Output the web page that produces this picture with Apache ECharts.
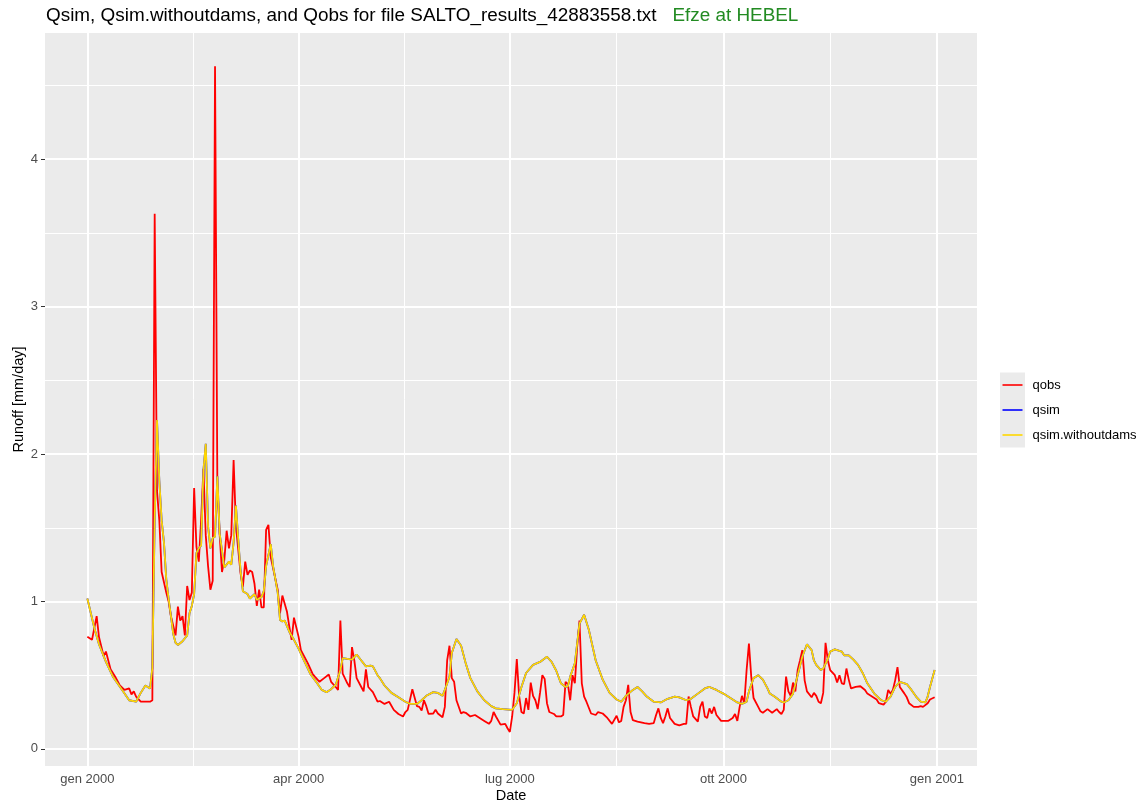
<!DOCTYPE html>
<html>
<head>
<meta charset="utf-8">
<title>Qsim, Qsim.withoutdams, and Qobs - SALTO_results_42883558</title>
<script src="https://cdn.jsdelivr.net/npm/echarts@6/dist/echarts.min.js"></script>
<style>
  html, body { margin: 0; padding: 0; background: #fff; }
  #chart { width: 1141px; height: 801px; }
</style>
</head>
<body>
<div id="chart"></div>
<script>
  // [day of year 2000 (0 = 1 gen), runoff mm/day]
  const qobs = [
    [0,0.76],[2,0.74],[4,0.90],[5,0.76],[7,0.63],[8,0.66],[10,0.54],[12,0.49],[14,0.43],[16,0.40],
    [18,0.41],[19,0.37],[20,0.39],[21,0.355],[23,0.32],[27,0.32],[28,0.33],[29,3.63],[30,1.75],[31,1.55],
    [32,1.20],[34,1.06],[35,1.00],[36,0.90],[38,0.77],[39,0.965],[40,0.87],[41,0.90],[42,0.77],[43,1.105],
    [44,1.01],[45,1.06],[46,1.77],[47,1.37],[48,1.27],[49,1.55],[50,1.90],[51,1.45],[52,1.24],[53,1.08],
    [54,1.14],[55,4.63],[56,1.80],[57,1.45],[58,1.20],[59,1.28],[60,1.48],[61,1.36],[62,1.45],[63,1.96],
    [64,1.51],[66,1.19],[67,1.10],[68,1.27],[69,1.18],[70,1.21],[71,1.20],[72,1.12],[73,0.97],[74,1.08],
    [75,0.96],[76,0.96],[77,1.485],[78,1.52],[79,1.30],[82,1.08],[83,0.92],[84,1.04],[86,0.93],[87,0.83],
    [88,0.74],[89,0.89],[91,0.76],[92,0.67],[95,0.58],[97,0.51],[98,0.49],[100,0.455],[102,0.48],[104,0.505],
    [105,0.455],[107,0.42],[108,0.40],[109,0.87],[110,0.51],[112,0.445],[113,0.42],[114,0.69],[115,0.60],[116,0.48],
    [118,0.42],[119,0.39],[120,0.54],[121,0.42],[123,0.385],[125,0.32],[126,0.325],[128,0.305],[130,0.32],[132,0.265],
    [134,0.237],[136,0.22],[137,0.25],[138,0.265],[140,0.405],[142,0.29],[143,0.285],[144,0.26],[145,0.33],[146,0.29],
    [147,0.237],[149,0.24],[150,0.265],[151,0.24],[153,0.215],[154,0.285],[155,0.60],[156,0.70],[157,0.48],[158,0.455],
    [159,0.33],[161,0.24],[162,0.25],[163,0.245],[165,0.22],[167,0.23],[169,0.21],[171,0.19],[173,0.17],[174,0.19],
    [175,0.25],[176,0.22],[178,0.165],[180,0.17],[181,0.14],[182,0.115],[183,0.22],[184,0.38],[185,0.61],[186,0.36],
    [187,0.25],[188,0.24],[189,0.345],[190,0.265],[191,0.45],[192,0.36],[193,0.33],[194,0.27],[195,0.38],[196,0.50],
    [197,0.475],[198,0.31],[199,0.25],[201,0.237],[202,0.22],[204,0.22],[205,0.23],[206,0.455],[207,0.44],[208,0.33],
    [209,0.50],[210,0.445],[211,0.69],[212,0.87],[213,0.445],[214,0.355],[215,0.32],[217,0.24],[219,0.23],[220,0.25],
    [222,0.24],[224,0.21],[226,0.17],[228,0.225],[229,0.18],[230,0.19],[231,0.285],[232,0.33],[233,0.435],[234,0.25],
    [235,0.195],[237,0.185],[240,0.175],[242,0.17],[244,0.175],[245,0.23],[246,0.275],[247,0.21],[248,0.175],[249,0.22],
    [250,0.275],[251,0.21],[253,0.17],[255,0.16],[257,0.17],[258,0.17],[259,0.355],[260,0.285],[261,0.22],[263,0.185],
    [264,0.285],[265,0.32],[266,0.22],[267,0.21],[268,0.275],[269,0.24],[270,0.285],[271,0.23],[273,0.19],[276,0.19],
    [278,0.21],[279,0.237],[280,0.19],[281,0.285],[282,0.36],[283,0.31],[284,0.535],[285,0.715],[286,0.49],[287,0.345],
    [289,0.285],[290,0.255],[291,0.245],[293,0.27],[295,0.245],[297,0.27],[298,0.25],[299,0.237],[300,0.265],[301,0.49],
    [302,0.39],[303,0.36],[304,0.45],[305,0.39],[306,0.535],[307,0.60],[308,0.67],[309,0.465],[310,0.39],[312,0.35],
    [313,0.38],[314,0.36],[315,0.32],[316,0.31],[317,0.38],[318,0.72],[319,0.60],[320,0.535],[322,0.50],[323,0.45],
    [324,0.50],[325,0.445],[326,0.44],[327,0.545],[328,0.47],[329,0.41],[331,0.42],[333,0.425],[335,0.40],[336,0.375],
    [338,0.355],[340,0.335],[341,0.31],[342,0.305],[343,0.30],[344,0.32],[345,0.40],[346,0.375],[347,0.40],[348,0.465],
    [349,0.555],[350,0.42],[352,0.375],[353,0.35],[354,0.31],[356,0.285],[358,0.285],[359,0.29],[360,0.285],[362,0.31],
    [363,0.335],[365,0.35]
  ]
  const qsimWithoutDams = [
    [0,1.02],[3,0.82],[5,0.71],[8,0.59],[11,0.49],[15,0.40],[18,0.33],[21,0.32],[23,0.38],[25,0.43],
    [27,0.41],[28,0.55],[29,1.55],[30,2.23],[31,1.82],[32,1.55],[33,1.40],[34,1.15],[35,1.02],[36,0.90],
    [37,0.78],[38,0.72],[39,0.705],[41,0.73],[43,0.77],[44,0.92],[45,0.97],[46,1.05],[47,1.33],[48,1.36],
    [49,1.38],[50,1.89],[51,2.07],[52,1.51],[53,1.36],[54,1.43],[55,1.44],[56,1.85],[57,1.46],[59,1.23],
    [61,1.27],[62,1.25],[63,1.40],[64,1.65],[65,1.42],[66,1.21],[67,1.07],[69,1.05],[70,1.02],[72,1.05],
    [73,1.01],[75,1.03],[76,1.07],[77,1.24],[79,1.39],[80,1.24],[82,1.06],[83,0.875],[84,0.865],[85,0.87],
    [87,0.795],[89,0.74],[91,0.68],[93,0.61],[96,0.51],[99,0.445],[101,0.40],[103,0.385],[105,0.405],[107,0.435],
    [109,0.535],[110,0.615],[112,0.61],[114,0.605],[116,0.64],[118,0.60],[120,0.56],[122,0.565],[123,0.56],[125,0.50],
    [126,0.48],[128,0.43],[131,0.38],[134,0.35],[137,0.32],[139,0.305],[142,0.305],[144,0.33],[146,0.36],[149,0.385],
    [151,0.38],[153,0.36],[154,0.40],[156,0.49],[157,0.65],[159,0.745],[161,0.70],[163,0.58],[165,0.48],[168,0.39],
    [171,0.33],[174,0.29],[176,0.275],[179,0.27],[183,0.265],[185,0.31],[187,0.42],[189,0.515],[192,0.57],[195,0.59],
    [198,0.625],[200,0.59],[202,0.53],[204,0.445],[206,0.42],[207,0.425],[208,0.49],[210,0.58],[211,0.715],[212,0.85],
    [214,0.91],[216,0.81],[219,0.60],[222,0.47],[225,0.38],[228,0.335],[230,0.32],[232,0.36],[235,0.40],[237,0.42],
    [239,0.39],[241,0.355],[244,0.32],[247,0.315],[250,0.34],[253,0.355],[255,0.35],[258,0.33],[260,0.34],[263,0.375],
    [266,0.41],[268,0.42],[271,0.40],[274,0.375],[277,0.345],[280,0.315],[282,0.305],[284,0.32],[285,0.39],[287,0.48],
    [289,0.50],[291,0.47],[293,0.41],[294,0.375],[296,0.355],[299,0.32],[300,0.315],[302,0.33],[304,0.375],[306,0.50],
    [308,0.625],[310,0.71],[312,0.67],[313,0.60],[314,0.57],[316,0.535],[317,0.545],[319,0.61],[320,0.66],[322,0.675],
    [325,0.66],[326,0.635],[328,0.635],[330,0.605],[332,0.57],[334,0.515],[336,0.445],[339,0.375],[342,0.33],[344,0.32],
    [346,0.355],[348,0.42],[350,0.455],[353,0.44],[355,0.40],[357,0.355],[359,0.32],[361,0.315],[362,0.355],[363,0.42],
    [365,0.535]
  ]
  // the blue qsim line lies exactly under the yellow one in the picture
  const qsim = qsimWithoutDams

  const seriesNames = ['qobs', 'qsim', 'qsim.withoutdams']
  const seriesColors = ['#FF0000', '#0000FF', '#FFD700']
  const xTickDates = [[2000, 1, 1], [2000, 4, 1], [2000, 7, 1], [2000, 10, 1], [2001, 1, 1]]
  const monthNames = ['gen', 'feb', 'mar', 'apr', 'mag', 'giu', 'lug', 'ago', 'set', 'ott', 'nov', 'dic']
  const yTicks = [0, 1, 2, 3, 4]
  const yMinor = [0.5, 1.5, 2.5, 3.5, 4.5]

  const FONT = '"Liberation Sans", Arial, sans-serif'
  const DAY = 86400000
  const start = Date.UTC(2000, 0, 1)
  const toTime = d => start + d * DAY
  const tickTimes = xTickDates.map(([y, m, d]) => Date.UTC(y, m - 1, d))
  const minorTimes = tickTimes.slice(1).map((t, i) => (t + tickTimes[i]) / 2)

  const gridLine = (key, v, width) => ({ [key]: v, lineStyle: { color: '#FFFFFF', width: width, type: 'solid' } })

  const chartInstance = echarts.init(document.getElementById('chart'), null, { renderer: 'canvas' })
  const lists = [qobs, qsim, qsimWithoutDams]

  const option = {
    animation: false,
    backgroundColor: '#FFFFFF',
    title: {
      left: 46,
      top: 6,
      padding: 0,
      text: '{a|Qsim, Qsim.withoutdams, and Qobs for file SALTO_results_42883558.txt}{b|Efze at HEBEL}',
      textStyle: {
        fontWeight: 'normal',
        rich: {
          a: { fontSize: 18.9, fontWeight: 'normal', color: '#000000', fontFamily: FONT },
          b: { fontSize: 18.9, fontWeight: 'normal', color: '#228B22', fontFamily: FONT, padding: [0, 0, 0, 16] }
        }
      }
    },
    grid: {
      left: 45,
      right: 164,
      top: 33,
      bottom: 35,
      containLabel: false,
      outerBoundsMode: 'none',
      show: true,
      backgroundColor: '#EBEBEB',
      borderWidth: 0
    },
    legend: {
      data: seriesNames,
      orient: 'vertical',
      left: 1002.5,
      top: 372.5,
      padding: 0,
      itemGap: 0,
      itemWidth: 20,
      itemHeight: 1.6,
      icon: 'rect',
      selectedMode: false,
      textStyle: { fontSize: 13, color: '#000000', fontFamily: FONT, lineHeight: 25, padding: [0, 0, 0, 5] }
    },
    graphic: [
      { type: 'rect', left: 1000, top: 372.5, z: -10, shape: { width: 25, height: 75 }, style: { fill: '#EBEBEB' } }
    ],
    xAxis: {
      // time stored as UTC milliseconds on a plain value axis
      type: 'value',
      min: start - 18.25 * DAY,
      max: toTime(365) + 18.25 * DAY,
      name: 'Date',
      nameLocation: 'middle',
      nameGap: 22,
      nameMoveOverlap: false,
      nameTextStyle: { fontSize: 14.5, color: '#000000', fontFamily: FONT },
      axisLine: { show: false },
      axisTick: { show: true, customValues: tickTimes, length: 4, lineStyle: { color: '#333333', width: 1 } },
      axisLabel: {
        customValues: tickTimes,
        margin: 7,
        fontSize: 13,
        color: '#4D4D4D',
        fontFamily: FONT,
        formatter: v => {
          const d = new Date(v)
          return monthNames[d.getUTCMonth()] + ' ' + d.getUTCFullYear()
        }
      },
      splitLine: { show: false }
    },
    yAxis: {
      type: 'value',
      min: -0.116,
      max: 4.856,
      name: 'Runoff [mm/day]',
      nameLocation: 'middle',
      nameGap: 19,
      nameRotate: 90,
      nameMoveOverlap: false,
      nameTextStyle: { fontSize: 14.5, color: '#000000', fontFamily: FONT },
      axisLine: { show: false },
      axisTick: { show: true, customValues: yTicks, length: 4, lineStyle: { color: '#333333', width: 1 } },
      axisLabel: { customValues: yTicks, margin: 7, fontSize: 13, color: '#4D4D4D', fontFamily: FONT },
      splitLine: { show: false }
    },
    series: [
      {
        // panel grid lines (ggplot style): major and minor breaks
        type: 'line',
        data: [],
        silent: true,
        z: 1,
        markLine: {
          silent: true,
          z: 1,
          symbol: 'none',
          animation: false,
          label: { show: false },
          emphasis: { disabled: true },
          data: [
            ...minorTimes.map(t => gridLine('xAxis', t, 1)),
            ...yMinor.map(v => gridLine('yAxis', v, 1)),
            ...tickTimes.map(t => gridLine('xAxis', t, 2)),
            ...yTicks.map(v => gridLine('yAxis', v, 2))
          ]
        }
      },
      ...seriesNames.map((name, i) => ({
        name: name,
        type: 'line',
        data: lists[i].map(([d, v]) => [toTime(d), v]),
        showSymbol: false,
        symbol: 'none',
        z: 3 + i,
        lineStyle: { color: seriesColors[i], width: 1.8 },
        itemStyle: { color: seriesColors[i] },
        emphasis: { disabled: true }
      }))
    ]
  }
  chartInstance.setOption(option)
</script>
</body>
</html>
